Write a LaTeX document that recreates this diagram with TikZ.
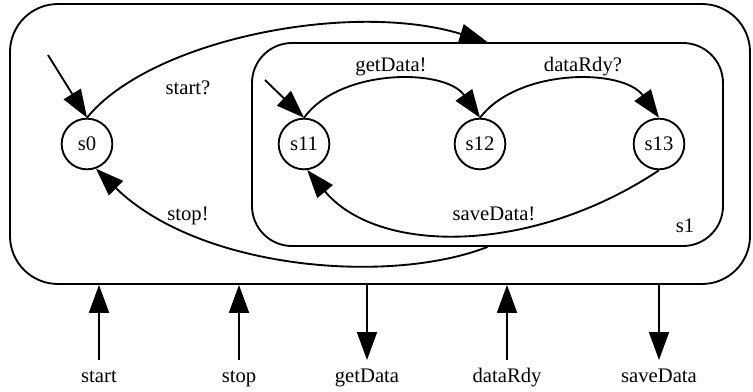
\documentclass[tikz,border=0pt]{standalone}
\usepackage{fontspec}
\setmainfont{Liberation Serif}
\usetikzlibrary{arrows.meta}
\begin{document}
\begin{tikzpicture}[x=0.75pt,y=-0.75pt,
  every node/.style={font=\fontsize{15.5}{18}\selectfont},
  line width=1.4pt,
  tip/.style={-{Triangle[length=21pt,width=15pt]}},
  state/.style={draw,circle,minimum size=38pt,inner sep=0pt},
  box/.style={draw,inner sep=0pt},
  lbl/.style={anchor=base,inner sep=0pt},
  port/.style={anchor=north,text height=0.72em,text depth=0.25em,inner xsep=0pt,inner ysep=9.1pt}]
\useasboundingbox (0,0) rectangle (753,392);

% superstate and nested superstate s1
\node[box,rounded corners=36pt,minimum width=555pt,minimum height=210pt] (outer) at (380,144) {};
\node[box,rounded corners=30pt,minimum width=353.25pt,minimum height=152.25pt] (s1) at (487.5,144.5) {};
\node[lbl] (s1name) at (685,233) {s1};

% states
\node[state] (s0)  at (87,144)  {s0};
\node[state] (s11) at (304,144) {s11};
\node[state] (s12) at (480,144) {s12};
\node[state] (s13) at (659,144) {s13};

% initial transitions
\coordinate (i0)  at (48,55);
\coordinate (i11) at (265,80);
\draw[tip] (i0) -- (s0.north);
\draw[tip] (i11) -- (s11.north);

% transitions
\draw[tip] (s0.north) .. controls (150,40) and (350,0) .. (s1.north);
\draw[tip] (s1.south) .. controls (390,285) and (200,270) .. (s0.290);
\draw[tip] (s11.north) .. controls (340,68) and (445,68) .. (s12.north);
\draw[tip] (s12.north) .. controls (518,68) and (623,68) .. (s13.north);
\draw[tip] (s13.south) .. controls (532,255) and (378,255) .. (s11.277);

% transition labels
\node[lbl] (lstart)  at (188,95)  {start?};
\node[lbl] (lstop)   at (188,220) {stop!};
\node[lbl] (lget)    at (391,72)  {getData!};
\node[lbl] (lrdy)    at (583,72)  {dataRdy?};
\node[lbl] (lsave)   at (494,220) {saveData!};

% interface signals
\node[port] (pstart) at (99,360)  {start};
\node[port] (pstop)  at (239,360) {stop};
\node[port] (pget)   at (367,360) {getData};
\node[port] (prdy)   at (507,360) {dataRdy};
\node[port] (psave)  at (659,360) {saveData};

\draw[tip] (pstart.north) -- (pstart.north |- outer.south);
\draw[tip] (pstop.north)  -- (pstop.north |- outer.south);
\draw[tip] (pget.north |- outer.south) -- (pget.north);
\draw[tip] (prdy.north)   -- (prdy.north |- outer.south);
\draw[tip] (psave.north |- outer.south) -- (psave.north);
\end{tikzpicture}
\end{document}
